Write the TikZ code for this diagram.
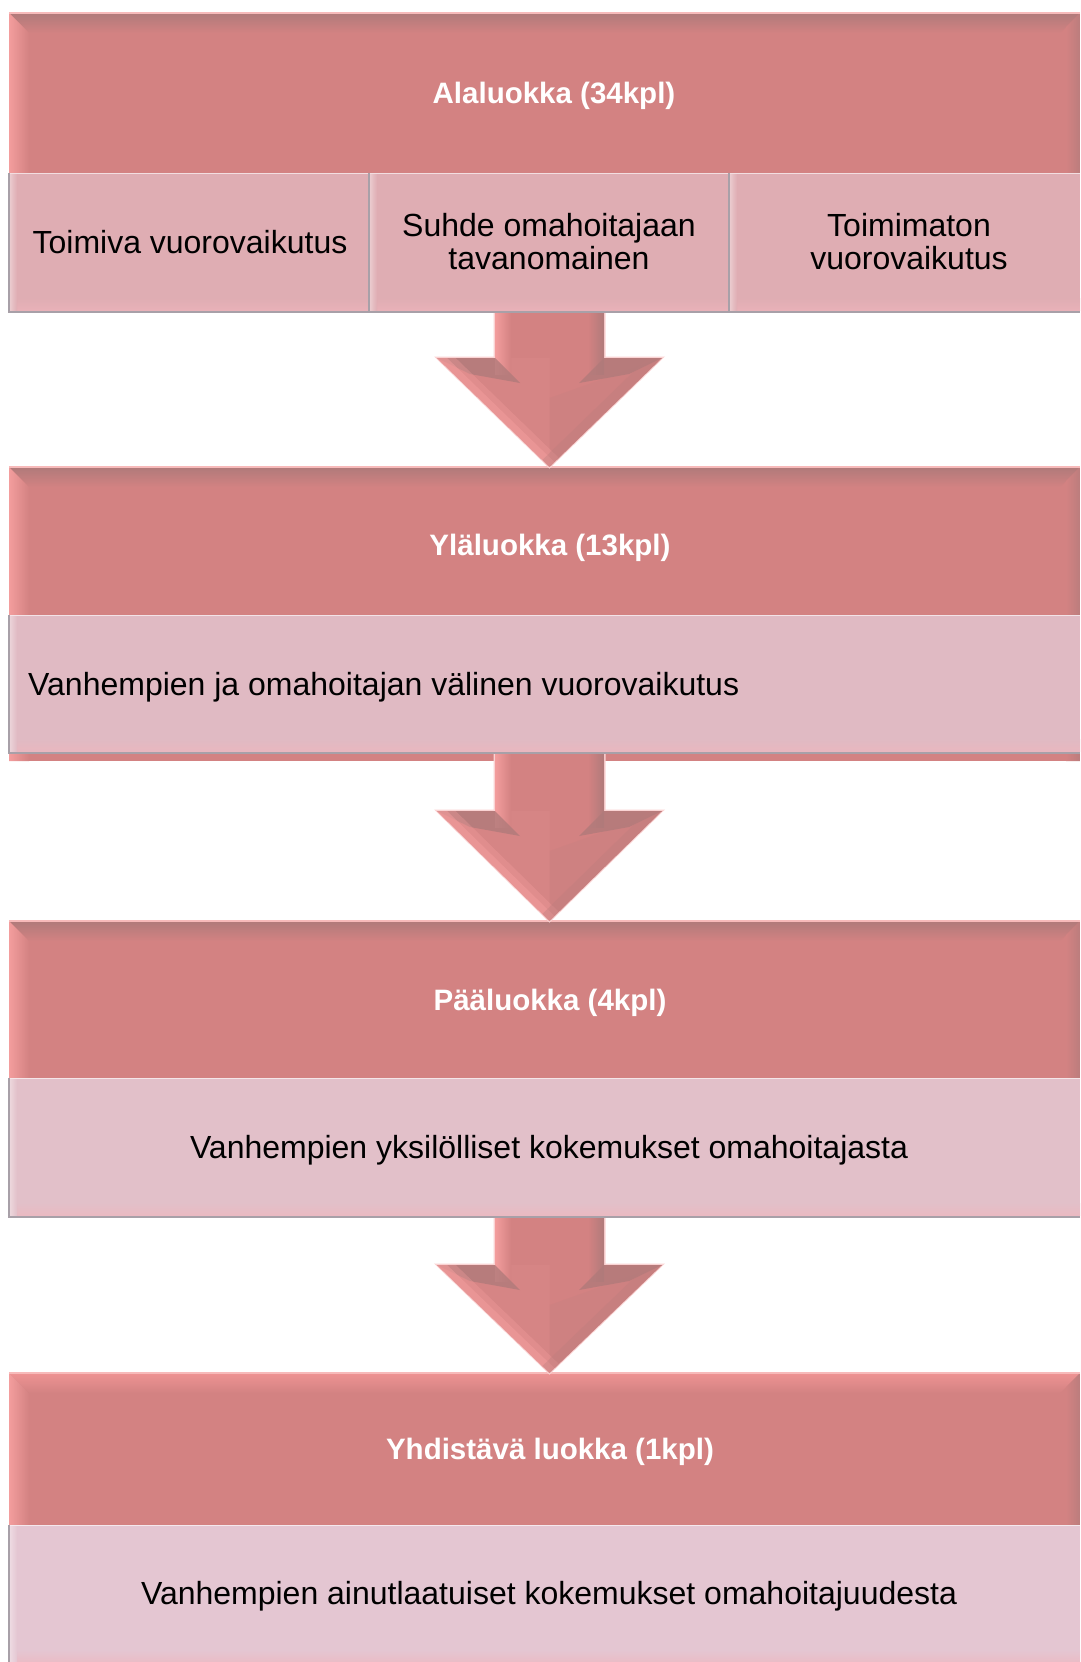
\documentclass[tikz,border=0pt]{standalone}
\usepackage{fontspec}
\setmainfont{Liberation Sans}
\usetikzlibrary{calc}
\definecolor{hbase}{HTML}{D38282}
\definecolor{hdark}{HTML}{B07A7A}
\definecolor{hlight}{HTML}{F39D9D}
\definecolor{hright}{HTML}{BB7D7D}
\definecolor{htopfour}{HTML}{EE9393}
\definecolor{subone}{HTML}{DFADB3}
\definecolor{subtwo}{HTML}{E0BAC3}
\definecolor{subthree}{HTML}{E2C0C9}
\definecolor{subfour}{HTML}{E4C6D2}
\definecolor{subglow}{HTML}{F0B4BC}
\definecolor{subline}{HTML}{A8A0A8}

\tikzset{
  hdrtext/.style={text=white, font=\fontsize{29.5}{33}\selectfont\bfseries, align=center, inner sep=0pt},
  bodytext/.style={text=black, font=\fontsize{32}{33}\selectfont, align=center, inner sep=0pt},
}

\newcommand\headerbg[3]{%
  \fill[hbase] (9,#1) rectangle (1080,#2);
  \begin{scope}
    \clip (9,#1) -- (1080,#1) -- (1060,#1+20) -- (29,#1+20) -- cycle;
    \shade[top color=#3, bottom color=hbase] (9,#1) rectangle (1080,#1+20);
  \end{scope}
  \begin{scope}
    \clip (9,#1) -- (29,#1+20) -- (29,#2) -- (9,#2) -- cycle;
    \shade[left color=hlight, right color=hbase] (9,#1) rectangle (29,#2);
  \end{scope}
  \begin{scope}
    \clip (1080,#1) -- (1080,#2) -- (1066,#2) -- (1066,#1+14) -- cycle;
    \shade[left color=hbase, right color=hright] (1066,#1) rectangle (1080,#2);
  \end{scope}
  \draw[hlight!70!white, line width=1.5] (9,#1) -- (1080,#1);
}

\newcommand\subbg[5]{%
  \fill[#5] (#1,#3) rectangle (#2,#4);
  \shade[top color=#5, bottom color=#5!45!subglow] (#1,#4-14) rectangle (#2,#4-2);
  \shade[left color=#5!60!white, right color=#5] (#1,#3) rectangle (#1+8,#4);
  \draw[#5!40!white, line width=1.2] (#1,#3+0.8) -- (#2,#3+0.8);
  \draw[subline, line width=1.5] (#1,#3) -- (#1,#4) -- (#2,#4);
}

\newcommand\blockarrow[3]{%
  \fill[hlight!45!white] (493.5,#1) -- (605.5,#1) -- (605.5,#2-1.5) -- (665,#2-1.5) -- (549.5,#3+1.5) -- (434,#2-1.5) -- (493.5,#2-1.5) -- cycle;
  \begin{scope}
    \clip (495,#1) -- (604,#1) -- (604,#2) -- (662,#2) -- (549.5,#3) -- (437,#2) -- (495,#2) -- cycle;
    \fill[hbase] (430,#1) rectangle (670,#3);
    \fill[hlight, opacity=0.12] (549.5,#2) -- (549.5,#3) -- (437,#2) -- cycle;
    \fill[hdark, opacity=0.12] (549.5,#2+40) -- (549.5,#3) -- (662,#2) -- cycle;
    \shade[left color=hlight, right color=hbase] (495,#1) rectangle (511,#2+16);
    \shade[left color=hbase, right color=hdark] (588,#1) rectangle (604,#2+16);
    \fill[hdark, opacity=0.8] (437,#2) -- (495,#2) -- (520,#2+25) -- (470,#2+16) -- cycle;
    \fill[hdark, opacity=0.8] (604,#2) -- (662,#2) -- (629,#2+16) -- (579,#2+25) -- cycle;
    \draw[hlight, line width=26, opacity=0.35] (437,#2) -- (549.5,#3);
    \draw[hlight, line width=14, opacity=0.5] (437,#2) -- (549.5,#3);
    \draw[hright, line width=20, opacity=0.35] (662,#2) -- (549.5,#3);
  \end{scope}
}

\begin{document}
\begin{tikzpicture}[x=1pt,y=-1pt]
\useasboundingbox (0,0) rectangle (1080,1662);

% header backgrounds
\headerbg{13}{173}{hdark}
\headerbg{467}{761}{hdark}
\headerbg{921}{1078}{hdark}
\headerbg{1373}{1525}{htopfour}

% arrows (connectors)
\blockarrow{292}{358}{467}
\blockarrow{741}{811}{921}
\blockarrow{1197}{1265}{1373}

% sub boxes
\subbg{9}{369}{173}{312}{subone}
\subbg{369}{729}{173}{312}{subone}
\subbg{729}{1080}{173}{312}{subone}
\subbg{9}{1080}{615}{753}{subtwo}
\subbg{9}{1080}{1078}{1217}{subthree}
\subbg{9}{1080}{1525}{1664}{subfour}

% texts
\node[hdrtext, anchor=base] (h1) at (554,103.5) {Alaluokka (34kpl)};
\node[bodytext, anchor=base] (s1a) at (190,253.5) {Toimiva vuorovaikutus};
\node[bodytext] (s1b) at (549,242) {Suhde omahoitajaan\\tavanomainen};
\node[bodytext] (s1c) at (909,242) {Toimimaton\\vuorovaikutus};

\node[hdrtext, anchor=base] (h2) at (550,555.5) {Yläluokka (13kpl)};
\node[bodytext, anchor=base west] (s2) at (28,695) {Vanhempien ja omahoitajan välinen vuorovaikutus};

\node[hdrtext, anchor=base] (h3) at (550,1010) {Pääluokka (4kpl)};
\node[bodytext, anchor=base] (s3) at (549,1158.5) {Vanhempien yksilölliset kokemukset omahoitajasta};

\node[hdrtext, anchor=base] (h4) at (550,1459.5) {Yhdistävä luokka (1kpl)};
\node[bodytext, anchor=base] (s4) at (549,1604.5) {Vanhempien ainutlaatuiset kokemukset omahoitajuudesta};
\end{tikzpicture}
\end{document}
